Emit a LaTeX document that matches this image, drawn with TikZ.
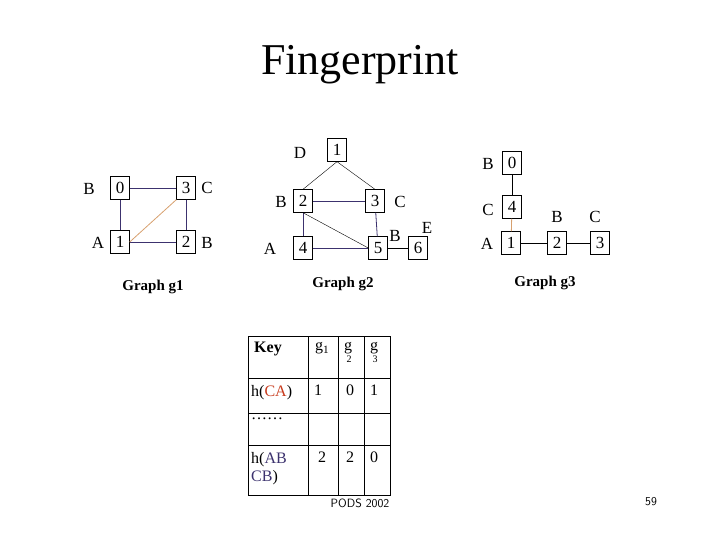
\documentclass[tikz,border=0pt]{standalone}
\usepackage{fontspec}
\setmainfont{Liberation Serif}
\usetikzlibrary{positioning}
\definecolor{edgeblue}{RGB}{60,50,110}
\definecolor{edgeorange}{RGB}{215,160,110}
\definecolor{keyred}{RGB}{200,60,30}
\tikzset{
  vtx/.style={draw, rectangle, minimum width=19pt, minimum height=23pt, inner sep=0pt, font=\fontsize{17}{17}\selectfont},
  lbl/.style={font=\fontsize{17}{17}\selectfont},
  gcap/.style={font=\bfseries\fontsize{15}{15}\selectfont},
  ub/.style={draw=edgeblue, thick},
  uo/.style={draw=edgeorange, thick},
  ublk/.style={draw=black},
  cell/.style={anchor=north west, inner sep=0pt, font=\fontsize{16}{18}\selectfont, align=left}
}
\begin{document}
\begin{tikzpicture}[x=1pt, y=-1pt]
    \useasboundingbox (0,0) rectangle (720,540);
    \node (title) at (360,65) {\fontsize{44}{44}\selectfont Fingerprint};

    % Graph g1
    \node (a0) [vtx] at (120,188) {0};
    \node (a3) [vtx] at (186,188) {3};
    \node (a1) [vtx] at (120,242) {1};
    \node (a2) [vtx] at (186,242) {2};
    \node [lbl] at (89,189) {B};
    \node [lbl] at (207,188) {C};
    \node [lbl] at (98,243) {A};
    \node [lbl] at (207,243) {B};
    \draw [ub] (a0) -- (a3);
    \draw [ub] (a0) -- (a1);
    \draw [ub] (a3) -- (a2);
    \draw [ub] (a1) -- (a2);
    \draw [uo] (a1.east) -- (a3.south west);
    \node (capa) [gcap] at (153,287) {Graph g1};

    % Graph g2
    \node (b1) [vtx] at (337,150) {1};
    \node (b2) [vtx] at (303,201) {2};
    \node (b3) [vtx] at (375,201) {3};
    \node (b4) [vtx] at (303,248) {4};
    \node (b5) [vtx] at (378,248) {5};
    \node (b6) [vtx] at (418,248) {6};
    \node [lbl] at (300,153) {D};
    \node [lbl] at (281,202) {B};
    \node [lbl] at (400,202) {C};
    \node [lbl] at (270,249) {A};
    \node [lbl] at (395,236) {B};
    \node [lbl] at (427,228) {E};
    \draw [ublk] (b1.south) -- (b2.north);
    \draw [ublk] (b1.south) -- (b3.north);
    \draw [ub] (b2) -- (b3);
    \draw [ub] (b2) -- (b4);
    \draw [ub] (b3) -- (b5);
    \draw [ub] (b4) -- (b5);
    \draw [ublk] (b2.south) -- (b5.west);
    \draw [ublk] (b5) -- (b6);
    \node (capb) [gcap] at (343,284) {Graph g2};

    % Graph g3
    \node (c0) [vtx] at (512,163) {0};
    \node (c4) [vtx] at (512,207) {4};
    \node (c1) [vtx] at (511,243) {1};
    \node (c2) [vtx] at (557,243) {2};
    \node (c3) [vtx] at (600,243) {3};
    \node [lbl] at (488,164) {B};
    \node [lbl] at (488,210) {C};
    \node [lbl] at (487,244) {A};
    \node [lbl] at (557,217) {B};
    \node [lbl] at (595,217) {C};
    \draw [ublk] (c0) -- (c4);
    \draw [uo] (c4) -- (c1);
    \draw [ublk] (c1) -- (c2);
    \draw [ublk] (c2) -- (c3);
    \node (capc) [gcap] at (545,283) {Graph g3};

    % Key table
    \draw [thick] (248,336) rectangle (390,495);
    \foreach \yy in {378,413,445} \draw [thick] (248,\yy) -- (390,\yy);
    \foreach \xx in {308,338,364} \draw [thick] (\xx,336) -- (\xx,495);
    \node (k0) [cell] at (254,342) {\bfseries Key};
    \node (k1) [cell] at (315,342) {g\textsubscript{1}};
    \node (k2) [cell] at (344,342) {g\\[-6pt]\fontsize{10}{10}\selectfont\ 2};
    \node (k3) [cell] at (370,342) {g\\[-6pt]\fontsize{10}{10}\selectfont\ 3};
    \node (h1) [cell] at (251,385) {h(\textcolor{keyred}{CA})};
    \node (v11) [cell] at (314,385) {1};
    \node (v12) [cell] at (346,385) {0};
    \node (v13) [cell] at (370,385) {1};
    \node (dots) [cell] at (251,418) {\ldots\ldots};
    \node (h2) [cell] at (251,452) {h(\textcolor{edgeblue}{AB}\\\textcolor{edgeblue}{CB})};
    \node (v21) [cell] at (318,452) {2};
    \node (v22) [cell] at (346,452) {2};
    \node (v23) [cell] at (370,452) {0};
    \node (pods) at (360,503) {\fontsize{12}{12}\selectfont\sffamily PODS 2002};
    \node (page) at (651,502) {\fontsize{12}{12}\selectfont\sffamily 59};
\end{tikzpicture}
\end{document}
